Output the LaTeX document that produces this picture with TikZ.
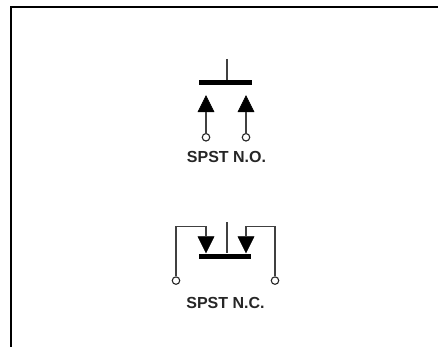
\documentclass[tikz,border=0pt]{standalone}
\usepackage{fontspec}
\setmainfont{Liberation Sans}
\usetikzlibrary{calc,shapes.geometric}

\begin{document}
\begin{tikzpicture}[x=1pt,y=-1pt,wire/.style={draw=black!75,line width=1.2pt},
    contact/.style={shape=isosceles triangle,isosceles triangle stretches,fill=black,inner sep=0pt,minimum height=16pt,minimum width=16pt,anchor=apex,draw=black,line width=.6pt},
    terminal/.style={shape=circle,draw=black!85,fill=white,line width=1.1pt,inner sep=0pt,minimum size=7.5pt},
    bar/.style={fill=black,inner sep=0pt,minimum width=52.5pt,minimum height=5pt},
    title/.style={font=\fontsize{16}{18}\selectfont\bfseries,text=black!85,inner sep=0pt}]
  \useasboundingbox (0,0) rectangle (438,347);
  \coordinate (fa) at (10.7,347);
  \coordinate (fb) at (10.7,7);
  \coordinate (fc) at (438,7);
  \draw[line width=2.4pt] (fa) -- (fb) -- (fc);

  % normally open
  \node[bar]                   (bar1)  at (225.5,82.5) {};
  \coordinate                  (top1)  at (227,59);
  \node[contact,rotate=90]     (a1)    at (206,95)     {};
  \node[contact,rotate=90]     (a2)    at (246,95)     {};
  \node[terminal]              (t1)    at (206,137.3)  {};
  \node[terminal]              (t2)    at (246,137.3)  {};
  \node[title]                 (lab1)  at (226.5,157.3)  {SPST N.O.};

  % normally closed
  \node[bar]                   (bar2)  at (225,256) {};
  \coordinate                  (top2)  at (227,222);
  \node[contact,rotate=-90]    (b1)    at (206,253.5)  {};
  \node[contact,rotate=-90]    (b2)    at (246,253.5)  {};
  \node[terminal]              (t3)    at (176,280.6)  {};
  \node[terminal]              (t4)    at (275,280.6)  {};
  \node[title]                 (lab2)  at (225.5,302.5)  {SPST N.C.};

  \draw[wire] (top1) -- (top1 |- bar1.north);
  \draw[wire] (t1) -- (a1.lower side);
  \draw[wire] (t2) -- (a2.lower side);
  \draw[wire] (top2) -- (top2 |- bar2.north);
  \draw[wire] (b1.lower side) |- (176,226.6) -- (t3);
  \draw[wire] (b2.lower side) |- (275,226.6) -- (t4);
\end{tikzpicture}
\end{document}
